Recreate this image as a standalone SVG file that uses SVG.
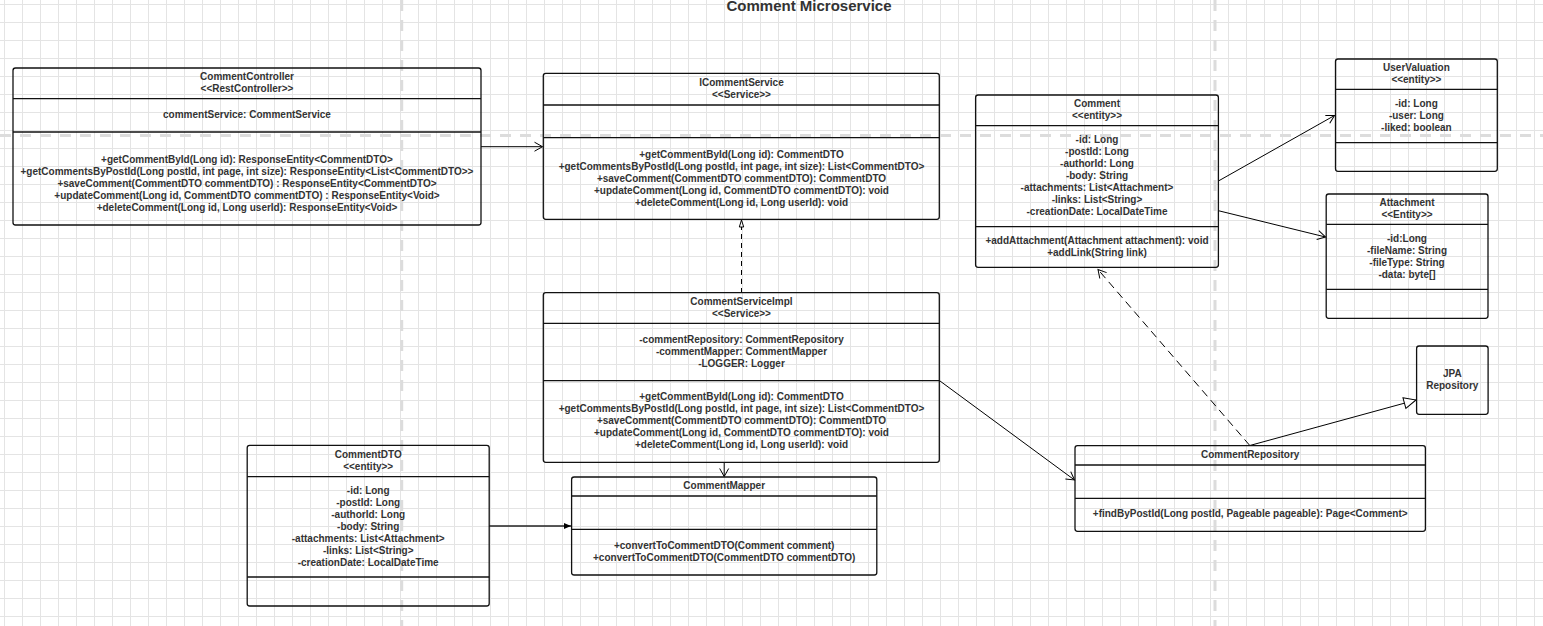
<svg xmlns="http://www.w3.org/2000/svg" width="1543" height="626" viewBox="0 0 1543 626">
  <defs>
    <pattern id="grid" x="4" y="4" width="18" height="18" patternUnits="userSpaceOnUse">
      <path d="M18 0.5H0M0.5 0V18" fill="none" stroke="#e4e4e4" stroke-width="1"/>
    </pattern>
    <marker id="open" viewBox="0 0 12 12" refX="10" refY="6" markerWidth="12" markerHeight="12" markerUnits="userSpaceOnUse" orient="auto">
      <path d="M2 1.5L10 6L2 10.5" fill="none" stroke="#000" stroke-width="1"/>
    </marker>
    <marker id="realize" viewBox="0 0 10 8" refX="8.5" refY="4" markerWidth="10" markerHeight="8" markerUnits="userSpaceOnUse" orient="auto">
      <path d="M1.5 1.8L8.5 4L1.5 6.2Z" fill="#fff" stroke="#000" stroke-width="1"/>
    </marker>
    <marker id="general" viewBox="0 0 16 14" refX="14" refY="7" markerWidth="16" markerHeight="14" markerUnits="userSpaceOnUse" orient="auto">
      <path d="M2 1.5L14 7L2 12.5Z" fill="#fff" stroke="#000" stroke-width="1"/>
    </marker>
    <marker id="filled" viewBox="0 0 10 8" refX="8" refY="4" markerWidth="10" markerHeight="8" markerUnits="userSpaceOnUse" orient="auto">
      <path d="M1 1L8 4L1 7Z" fill="#000"/>
    </marker>
  </defs>
  <style>
    .box { fill: none; stroke: #111; stroke-width: 1.3; }
    .div { stroke: #111; stroke-width: 1.3; }
    .t { font-family: "Liberation Sans", Arial, sans-serif; font-size: 10px; font-weight: bold; fill: #333; text-anchor: middle; }
    .title { font-family: "Liberation Sans", Arial, sans-serif; font-size: 15px; font-weight: bold; fill: #333; text-anchor: middle; }
    .guide { stroke: #dcdcdc; stroke-width: 3; stroke-dasharray: 11 9; fill: none; }
    .c { fill: none; stroke: #000; stroke-width: 1; }
  </style>

  <!-- canvas and grid -->
  <rect width="1543" height="626" fill="#fff"/>
  <rect width="1543" height="626" fill="url(#grid)"/>

  <!-- page-break guides -->
  <g id="guides">
    <line class="guide" x1="401.7" y1="0" x2="401.7" y2="626"/>
    <line class="guide" x1="1215" y1="0" x2="1215" y2="626"/>
    <line class="guide" x1="0" y1="135.5" x2="1543" y2="135.5"/>
  </g>

  <text class="title" x="809" y="11">Comment Microservice</text>

  <!-- connectors -->
  <g id="connectors">
    <line class="c" x1="481" y1="146.7" x2="542.5" y2="146.7" marker-end="url(#open)"/>
    <line class="c" x1="741.5" y1="293" x2="741.5" y2="220" stroke-dasharray="5 4" marker-end="url(#realize)"/>
    <line class="c" x1="724.2" y1="462.5" x2="724.2" y2="476.5" marker-end="url(#open)"/>
    <line x1="489.2" y1="526" x2="571" y2="526" stroke="#222" stroke-width="1.4" marker-end="url(#filled)"/>
    <line class="c" x1="940" y1="381" x2="1074.5" y2="480" marker-end="url(#open)"/>
    <line class="c" x1="1249.8" y1="445.5" x2="1098" y2="269.5" stroke-dasharray="8 5" marker-end="url(#open)"/>
    <line class="c" x1="1249.8" y1="445.5" x2="1416" y2="400" marker-end="url(#general)"/>
    <line class="c" x1="1218.4" y1="181" x2="1334.5" y2="115.5" marker-end="url(#open)"/>
    <line class="c" x1="1218.4" y1="210.7" x2="1325.5" y2="237" marker-end="url(#open)"/>
  </g>

  <!-- CommentController -->
  <g id="comment-controller">
    <rect class="box" x="13" y="68" width="468" height="157" rx="2.5"/>
    <line class="div" x1="13" y1="98.7" x2="481" y2="98.7"/>
    <line class="div" x1="13" y1="132" x2="481" y2="132"/>
    <text class="t" x="247" y="80">CommentController</text>
    <text class="t" x="247" y="92">&lt;&lt;RestController&gt;&gt;</text>
    <text class="t" x="247" y="118">commentService: CommentService</text>
    <text class="t" x="247" y="163">+getCommentById(Long id): ResponseEntity&lt;CommentDTO&gt;</text>
    <text class="t" x="247" y="175">+getCommentsByPostId(Long postId, int page, int size): ResponseEntity&lt;List&lt;CommentDTO&gt;&gt;</text>
    <text class="t" x="247" y="187">+saveComment(CommentDTO commentDTO) : ResponseEntity&lt;CommentDTO&gt;</text>
    <text class="t" x="247" y="199">+updateComment(Long id, CommentDTO commentDTO) : ResponseEntity&lt;Void&gt;</text>
    <text class="t" x="247" y="211">+deleteComment(Long id, Long userId): ResponseEntity&lt;Void&gt;</text>
  </g>

  <!-- ICommentService -->
  <g id="icomment-service">
    <rect class="box" x="543.3" y="73.3" width="396" height="146" rx="2.5"/>
    <line class="div" x1="543.3" y1="105" x2="939.3" y2="105"/>
    <line class="div" x1="543.3" y1="137.7" x2="939.3" y2="137.7"/>
    <text class="t" x="741.5" y="85.5">ICommentService</text>
    <text class="t" x="741.5" y="98">&lt;&lt;Service&gt;&gt;</text>
    <text class="t" x="741.5" y="157.5">+getCommentById(Long id): CommentDTO</text>
    <text class="t" x="741.5" y="169.5">+getCommentsByPostId(Long postId, int page, int size): List&lt;CommentDTO&gt;</text>
    <text class="t" x="741.5" y="181.5">+saveComment(CommentDTO commentDTO): CommentDTO</text>
    <text class="t" x="741.5" y="193.5">+updateComment(Long id, CommentDTO commentDTO): void</text>
    <text class="t" x="741.5" y="205.5">+deleteComment(Long id, Long userId): void</text>
  </g>

  <!-- CommentServiceImpl -->
  <g id="comment-service-impl">
    <rect class="box" x="543.3" y="292.7" width="396" height="169.6" rx="2.5"/>
    <line class="div" x1="543.3" y1="323.3" x2="939.3" y2="323.3"/>
    <line class="div" x1="543.3" y1="380.7" x2="939.3" y2="380.7"/>
    <text class="t" x="741.5" y="304.5">CommentServiceImpl</text>
    <text class="t" x="741.5" y="316.5">&lt;&lt;Service&gt;&gt;</text>
    <text class="t" x="741.5" y="343">-commentRepository: CommentRepository</text>
    <text class="t" x="741.5" y="355">-commentMapper: CommentMapper</text>
    <text class="t" x="741.5" y="367">-LOGGER: Logger</text>
    <text class="t" x="741.5" y="400">+getCommentById(Long id): CommentDTO</text>
    <text class="t" x="741.5" y="412">+getCommentsByPostId(Long postId, int page, int size): List&lt;CommentDTO&gt;</text>
    <text class="t" x="741.5" y="424">+saveComment(CommentDTO commentDTO): CommentDTO</text>
    <text class="t" x="741.5" y="436">+updateComment(Long id, CommentDTO commentDTO): void</text>
    <text class="t" x="741.5" y="448">+deleteComment(Long id, Long userId): void</text>
  </g>

  <!-- CommentMapper -->
  <g id="comment-mapper">
    <rect class="box" x="571.6" y="477" width="305.2" height="98" rx="2.5"/>
    <line class="div" x1="571.6" y1="496" x2="876.8" y2="496"/>
    <line class="div" x1="571.6" y1="529.3" x2="876.8" y2="529.3"/>
    <text class="t" x="724.2" y="489">CommentMapper</text>
    <text class="t" x="724.2" y="549">+convertToCommentDTO(Comment comment)</text>
    <text class="t" x="724.2" y="561">+convertToCommentDTO(CommentDTO commentDTO)</text>
  </g>

  <!-- CommentDTO -->
  <g id="comment-dto">
    <rect class="box" x="247.2" y="445.3" width="242" height="160.7" rx="2.5"/>
    <line class="div" x1="247.2" y1="476.7" x2="489.2" y2="476.7"/>
    <line class="div" x1="247.2" y1="577" x2="489.2" y2="577"/>
    <text class="t" x="368.2" y="457.5">CommentDTO</text>
    <text class="t" x="368.2" y="470">&lt;&lt;entity&gt;&gt;</text>
    <text class="t" x="368.2" y="493.5">-id: Long</text>
    <text class="t" x="368.2" y="505.5">-postId: Long</text>
    <text class="t" x="368.2" y="517.5">-authorId: Long</text>
    <text class="t" x="368.2" y="529.5">-body: String</text>
    <text class="t" x="368.2" y="541.5">-attachments: List&lt;Attachment&gt;</text>
    <text class="t" x="368.2" y="553.5">-links: List&lt;String&gt;</text>
    <text class="t" x="368.2" y="565.5">-creationDate: LocalDateTime</text>
  </g>

  <!-- Comment -->
  <g id="comment">
    <rect class="box" x="975.6" y="95" width="242.8" height="172.3" rx="2.5"/>
    <line class="div" x1="975.6" y1="125.7" x2="1218.4" y2="125.7"/>
    <line class="div" x1="975.6" y1="226.7" x2="1218.4" y2="226.7"/>
    <text class="t" x="1097" y="107">Comment</text>
    <text class="t" x="1097" y="119">&lt;&lt;entity&gt;&gt;</text>
    <text class="t" x="1097" y="143">-id: Long</text>
    <text class="t" x="1097" y="155">-postId: Long</text>
    <text class="t" x="1097" y="167">-authorId: Long</text>
    <text class="t" x="1097" y="179">-body: String</text>
    <text class="t" x="1097" y="191">-attachments: List&lt;Attachment&gt;</text>
    <text class="t" x="1097" y="203">-links: List&lt;String&gt;</text>
    <text class="t" x="1097" y="215">-creationDate: LocalDateTime</text>
    <text class="t" x="1097" y="243.5">+addAttachment(Attachment attachment): void</text>
    <text class="t" x="1097" y="255.5">+addLink(String link)</text>
  </g>

  <!-- UserValuation -->
  <g id="user-valuation">
    <rect class="box" x="1335.5" y="59" width="161.8" height="112.3" rx="2.5"/>
    <line class="div" x1="1335.5" y1="89.3" x2="1497.3" y2="89.3"/>
    <line class="div" x1="1335.5" y1="142.7" x2="1497.3" y2="142.7"/>
    <text class="t" x="1416.4" y="70.5">UserValuation</text>
    <text class="t" x="1416.4" y="82.5">&lt;&lt;entity&gt;&gt;</text>
    <text class="t" x="1416.4" y="107">-id: Long</text>
    <text class="t" x="1416.4" y="119">-user: Long</text>
    <text class="t" x="1416.4" y="131">-liked: boolean</text>
  </g>

  <!-- Attachment -->
  <g id="attachment">
    <rect class="box" x="1326.2" y="194" width="161.8" height="124.3" rx="2.5"/>
    <line class="div" x1="1326.2" y1="224.3" x2="1488" y2="224.3"/>
    <line class="div" x1="1326.2" y1="289.3" x2="1488" y2="289.3"/>
    <text class="t" x="1407" y="205.5">Attachment</text>
    <text class="t" x="1407" y="217.5">&lt;&lt;Entity&gt;&gt;</text>
    <text class="t" x="1407" y="242">-id:Long</text>
    <text class="t" x="1407" y="254">-fileName: String</text>
    <text class="t" x="1407" y="266">-fileType: String</text>
    <text class="t" x="1407" y="278">-data: byte[]</text>
  </g>

  <!-- JPA Repository -->
  <g id="jpa-repository">
    <rect class="box" x="1416.6" y="346" width="71.5" height="68.3" rx="2.5"/>
    <text class="t" x="1452.3" y="377">JPA</text>
    <text class="t" x="1452.3" y="389">Repository</text>
  </g>

  <!-- CommentRepository -->
  <g id="comment-repository">
    <rect class="box" x="1075" y="445.7" width="350.4" height="85.6" rx="2.5"/>
    <line class="div" x1="1075" y1="465" x2="1425.4" y2="465"/>
    <line class="div" x1="1075" y1="498.3" x2="1425.4" y2="498.3"/>
    <text class="t" x="1250.2" y="457.5">CommentRepository</text>
    <text class="t" x="1250.2" y="517">+findByPostId(Long postId, Pageable pageable): Page&lt;Comment&gt;</text>
  </g>
</svg>
